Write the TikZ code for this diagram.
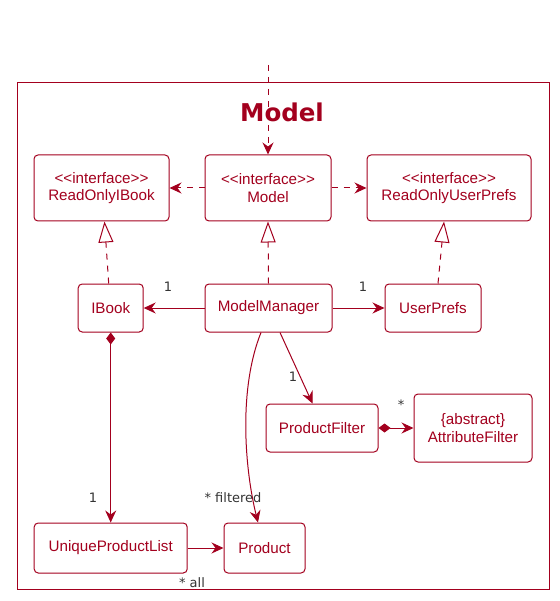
\documentclass[tikz,border=0pt]{standalone}
\usepackage{fontspec}
\setmainfont{Liberation Sans}
\newfontfamily\lblfont{DejaVu Sans}
\usetikzlibrary{arrows.meta}
\definecolor{umlred}{HTML}{A3001E}
\definecolor{lblgrey}{HTML}{333333}
\newcommand{\stereotype}[1]{<\kern0pt<#1>\kern0pt>}

\begin{document}
\begin{tikzpicture}[
    x=1pt, y=-1pt,
    cls/.style={
        draw=umlred, line width=1pt, fill=white, rounded corners=4pt,
        minimum height=48pt, inner sep=0pt,
        font=\fontsize{15.2}{17.5}\selectfont, text=umlred, align=center,
    },
    assoc/.style={-{Stealth[length=12pt, width=11pt, inset=4pt]}, line width=1pt, draw=umlred},
    dep/.style={assoc, dash pattern=on 6pt off 6pt},
    real/.style={-{Triangle[open, length=21pt, width=15pt, fill=white]}, line width=1pt,
        draw=umlred, dash pattern=on 6pt off 6pt},
    comp/.style={{Diamond[length=12pt, width=9pt]}-{Stealth[length=12pt, width=11pt, inset=4pt]},
        line width=1pt, draw=umlred},
    lbl/.style={font=\lblfont\fontsize{13}{15}\selectfont, text=lblgrey},
]
\useasboundingbox (0,0) rectangle (559,601);

% ════════════════════════════════════════
% Package frame and title
% ════════════════════════════════════════
\draw[umlred, line width=1pt] (17,83) rectangle (549,589);
\node[font=\lblfont\bfseries\fontsize{24.5}{29}\selectfont, text=umlred] (title) at (282,112) {Model};

% ════════════════════════════════════════
% Interfaces
% ════════════════════════════════════════
\node[cls, minimum width=135pt, minimum height=66pt] (roib) at (101.5,188) {\stereotype{interface}\\ReadOnlyIBook};
\node[cls, minimum width=126pt, minimum height=66pt] (model) at (268,188) {\stereotype{interface}\\Model};
\node[cls, minimum width=164pt, minimum height=66pt] (roup) at (449,188) {\stereotype{interface}\\ReadOnlyUserPrefs};

% ════════════════════════════════════════
% Classes
% ════════════════════════════════════════
\node[cls, minimum width=65pt] (ibook) at (110.7,308) {IBook};
\node[cls, minimum width=127pt] (mm) at (268.5,308) {ModelManager};
\node[cls, minimum width=96pt] (uprefs) at (433,308) {UserPrefs};
\node[cls, minimum width=112pt] (pfilter) at (322,428) {ProductFilter};
\node[cls, minimum width=118pt, minimum height=68pt] (afilter) at (473,428) {\{abstract\}\\AttributeFilter};
\node[cls, minimum width=153pt, minimum height=50pt] (uplist) at (110.7,548) {UniqueProductList};
\node[cls, minimum width=81pt, minimum height=50pt] (product) at (264.5,548) {Product};

% ════════════════════════════════════════
% Dependencies
% ════════════════════════════════════════
\coordinate (entry) at (268,65);
\draw[dep] (entry) -- (model.north);
\draw[dep] (model.west) -- (roib.east);
\draw[dep] (model.east) -- (roup.east -| roup.west);

% Realisations
\draw[real] ([xshift=-2pt]ibook.north) -- ([xshift=3pt]roib.south);
\draw[real] (mm.north) -- (model.south);
\draw[real] ([xshift=5pt]uprefs.north) -- ([xshift=-5pt]roup.south);

% ════════════════════════════════════════
% Associations
% ════════════════════════════════════════
\draw[assoc] (mm.west) -- (ibook.east);
\draw[assoc] (mm.east) -- (uprefs.west);
\draw[assoc] ([xshift=11.5pt]mm.south) -- ([xshift=-9.5pt]pfilter.north);
\draw[assoc] ([xshift=-7.5pt]mm.south) .. controls (238,390) and (245,470) .. ([xshift=-6.5pt]product.north);
\draw[comp] (pfilter.east) -- (afilter.west);
\draw[comp] (ibook.south) -- (uplist.north);
\draw[assoc] (uplist.east) -- (product.west);

% Multiplicities
\node[lbl] (m1) at (168,287) {1};
\node[lbl] (m2) at (363,287) {1};
\node[lbl] (m3) at (293,377) {1};
\node[lbl] (m4) at (401,405) {*};
\node[lbl] (m5) at (93,498) {1};
\node[lbl] (m6) at (233,498) {* filtered};
\node[lbl] (m7) at (192,583) {* all};

\end{tikzpicture}
\end{document}
